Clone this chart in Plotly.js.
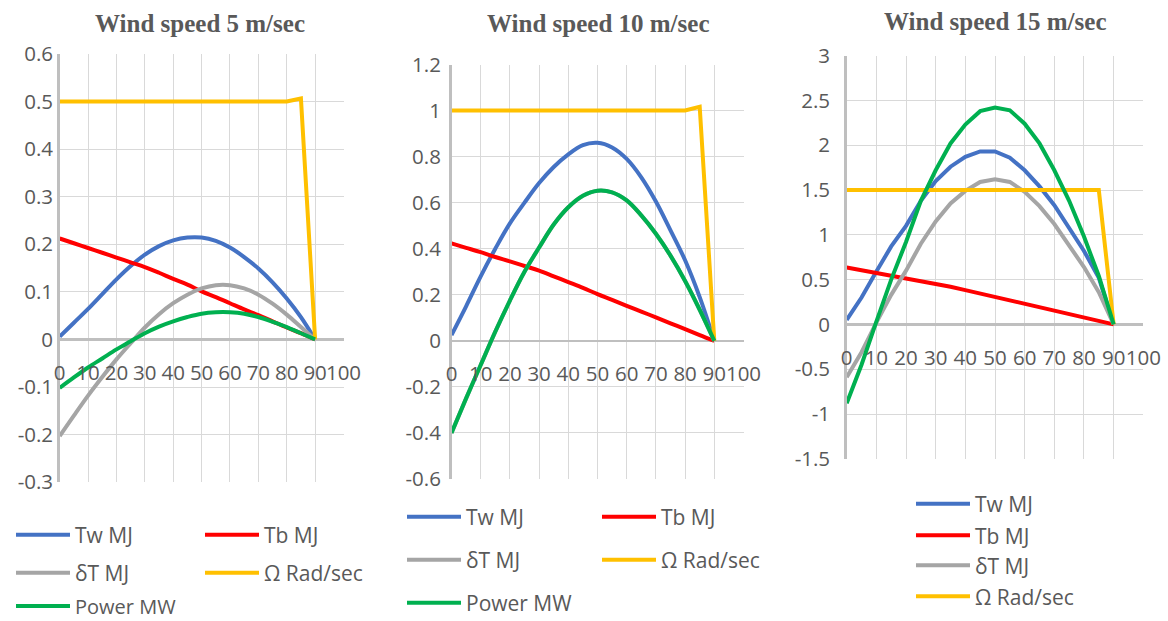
<!DOCTYPE html>
<html><head><meta charset="utf-8">
<script src="https://cdn.plot.ly/plotly-3.0.1.min.js"></script>
<style>html,body{margin:0;padding:0;background:#fff}#chart{width:1168px;height:621px}</style>
</head><body><div id="chart"></div>
<script>
// ---- data ----
const angle = [0,5,10,15,20,25,30,35,40,45,50,55,60,65,70,75,80,85,90];
const xTickVals = [0,10,20,30,40,50,60,70,80,90,100];
const xTickText = ["0","10","20","30","40","50","60","70","80","90","100"];
const seriesNames = ["Tw MJ","Tb MJ","\u03b4T MJ","\u03a9 Rad/sec","Power MW"];
const panelTitles = ["Wind speed 5 m/sec","Wind speed 10 m/sec","Wind speed 15 m/sec"];

// Wind speed 5 m/sec
const tw5 = [0.006,0.035,0.064,0.095,0.126,0.154,0.178,0.196,0.208,0.214,0.214,0.207,0.193,0.173,0.149,0.12,0.086,0.047,0];
const tb5 = [0.212,0.202,0.192,0.182,0.172,0.162,0.152,0.14,0.127,0.115,0.101,0.089,0.076,0.063,0.051,0.038,0.025,0.013,0];
const dt5 = [-0.203,-0.16,-0.118,-0.079,-0.042,-0.008,0.025,0.053,0.076,0.094,0.107,0.114,0.114,0.107,0.094,0.075,0.052,0.026,0];
const om5 = [0.5,0.5,0.5,0.5,0.5,0.5,0.5,0.5,0.5,0.5,0.5,0.5,0.5,0.5,0.5,0.5,0.5,0.506,0];
const pw5 = [-0.102,-0.08,-0.059,-0.04,-0.021,-0.004,0.013,0.027,0.038,0.047,0.054,0.057,0.057,0.054,0.047,0.037,0.026,0.013,0];
const y5Vals = [-0.3,-0.2,-0.1,0,0.1,0.2,0.3,0.4,0.5,0.6];
const y5Text = ["-0.3","-0.2","-0.1","0","0.1","0.2","0.3","0.4","0.5","0.6"];

// Wind speed 10 m/sec
const tw10 = [0.025,0.15,0.28,0.4,0.51,0.6,0.685,0.755,0.81,0.85,0.86,0.84,0.79,0.71,0.605,0.48,0.35,0.19,0];
const tb10 = [0.423,0.404,0.385,0.364,0.345,0.325,0.305,0.28,0.255,0.23,0.203,0.178,0.152,0.127,0.102,0.076,0.051,0.025,0];
const dt10 = [-0.4,-0.25,-0.105,0.04,0.175,0.3,0.405,0.505,0.58,0.63,0.652,0.645,0.61,0.545,0.465,0.37,0.26,0.135,0];
const om10 = [1,1,1,1,1,1,1,1,1,1,1,1,1,1,1,1,1,1.016,0];
const pw10 = [-0.4,-0.25,-0.105,0.04,0.175,0.3,0.405,0.505,0.58,0.63,0.652,0.645,0.61,0.545,0.465,0.37,0.26,0.135,0];
const y10Vals = [-0.6,-0.4,-0.2,0,0.2,0.4,0.6,0.8,1,1.2];
const y10Text = ["-0.6","-0.4","-0.2","0","0.2","0.4","0.6","0.8","1","1.2"];

// Wind speed 15 m/sec
const tw15 = [0.05,0.3,0.59,0.87,1.1,1.38,1.6,1.76,1.87,1.93,1.93,1.86,1.72,1.54,1.33,1.07,0.82,0.52,0];
const tb15 = [0.635,0.605,0.577,0.548,0.518,0.488,0.458,0.42,0.383,0.345,0.31,0.27,0.23,0.19,0.155,0.115,0.077,0.038,0];
const dt15 = [-0.59,-0.31,0.02,0.33,0.6,0.9,1.15,1.35,1.49,1.59,1.62,1.59,1.48,1.32,1.12,0.88,0.64,0.36,0];
const om15 = [1.5,1.5,1.5,1.5,1.5,1.5,1.5,1.5,1.5,1.5,1.5,1.5,1.5,1.5,1.5,1.5,1.5,1.5,0];
const pw15 = [-0.88,-0.45,0.03,0.5,0.92,1.38,1.72,2.02,2.23,2.38,2.42,2.39,2.24,2.02,1.72,1.38,0.98,0.54,0];
const y15Vals = [-1.5,-1,-0.5,0,0.5,1,1.5,2,2.5,3];
const y15Text = ["-1.5","-1","-0.5","0","0.5","1","1.5","2","2.5","3"];

// ---- styling / layout ----
const W = 1168, H = 621;
const colors = ["#4472C4","#FF0000","#A5A5A5","#FFC000","#00B050"];
const txtCol = "#595959";
const tickFont = {family:"Open Sans", size:20.5, color:txtCol};
const legFont = {family:"Open Sans", size:21, color:txtCol};
const legFontSmall = {family:"Open Sans", size:20, color:txtCol};
const px = v => v / W, py = v => 1 - v / H;

const panels = [
  {series:[tw5,tb5,dt5,om5,pw5], yv:y5Vals, yt:y5Text, x0:59.7, x1:343.5, yTop:53.8, yBot:482.2, spline:true, stand:9.5,
   title:{x:200, y:24},
   leg:[[16,535],[205,535],[16,573],[205,573],[16,606]]},
  {series:[tw10,tb10,dt10,om10,pw10], yv:y10Vals, yt:y10Text, x0:451.5, x1:743.5, yTop:64.5, yBot:479, spline:true, stand:4,
   title:{x:597.5, y:24},
   leg:[[407,517],[602,517],[407,560],[602,560],[407,603]]},
  {series:[tw15,tb15,dt15,om15,pw15], yv:y15Vals, yt:y15Text, x0:846.7, x1:1143.3, yTop:55.6, yBot:458.8, spline:false, stand:10,
   title:{x:995, y:21},
   leg:[[916,504],[916,535.7],[916,565.7],[916,596.7],null]}
];

const traces = [];
const layout = {
  width:W, height:H, autosize:false,
  margin:{l:0,r:0,t:0,b:0,pad:0,autoexpand:false},
  paper_bgcolor:"#fff", plot_bgcolor:"#fff",
  showlegend:true, hovermode:false,
  annotations:[]
};
let legendN = 0;
panels.forEach((p, i) => {
  const k = i === 0 ? "" : String(i + 1);
  const yv0 = p.yv[0], yv1 = p.yv[p.yv.length - 1];
  const yd = [py(p.yBot), py(p.yTop)];
  const zeroPos = yd[0] + (0 - yv0) / (yv1 - yv0) * (yd[1] - yd[0]);
  layout["xaxis" + k] = {
    domain:[px(p.x0), px(p.x1)], range:[0,100], anchor:"free", position:zeroPos,
    tickvals:xTickVals, ticktext:xTickText, tickangle:0, tickfont:tickFont,
    showgrid:true, gridcolor:"#d9d9d9", gridwidth:1, zeroline:false, showline:false,
    ticks:"", ticklabelstandoff:19, fixedrange:true, automargin:false
  };
  layout["yaxis" + k] = {
    domain:yd, range:[yv0, yv1], anchor:"x" + k,
    tickvals:p.yv, ticktext:p.yt, tickfont:tickFont,
    showgrid:true, gridcolor:"#d9d9d9", gridwidth:1,
    zeroline:true, zerolinecolor:"#bfbfbf", zerolinewidth:2.5,
    showline:true, linecolor:"#bfbfbf", linewidth:2.5,
    ticks:"", ticklabelstandoff:p.stand, fixedrange:true, automargin:false
  };
  layout.annotations.push({
    text:"<b>" + panelTitles[i] + "</b>", xref:"paper", yref:"paper",
    x:px(p.title.x), y:py(p.title.y), xanchor:"center", yanchor:"middle", showarrow:false,
    font:{family:"Liberation Serif", size:25, color:txtCol}
  });
  p.series.forEach((ys, s) => {
    const pos = p.leg[s];
    let legId = null;
    if (pos) {
      legendN++;
      legId = legendN === 1 ? "legend" : "legend" + legendN;
      layout[legId] = {
        x:px(pos[0] - 5), y:py(pos[1]), xanchor:"left", yanchor:"middle",
        orientation:"v", bgcolor:"rgba(0,0,0,0)", borderwidth:0,
        itemwidth:54, font:(pos[1] > 604 ? legFontSmall : legFont)
      };
    }
    const t = {
      type:"scatter", mode:"lines", x:angle, y:ys, name:seriesNames[s],
      xaxis:"x" + k, yaxis:"y" + k,
      line:{color:colors[s], width:4, shape:(p.spline && s !== 3) ? "spline" : "linear", smoothing:1},
      showlegend:!!pos, hoverinfo:"skip"
    };
    if (legId) t.legend = legId;
    traces.push(t);
  });
});
Plotly.newPlot("chart", traces, layout, {displayModeBar:false, staticPlot:true});
</script></body></html>
